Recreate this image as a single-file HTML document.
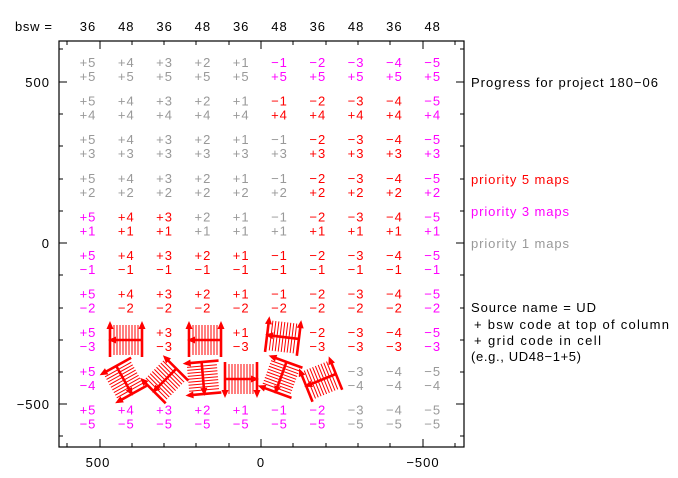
<!DOCTYPE html>
<html><head><meta charset="utf-8"><style>
html,body{margin:0;padding:0;background:#fff;}
svg{display:block;font-family:"Liberation Sans","DejaVu Sans",sans-serif;}
svg text{letter-spacing:1px;}
</style></head><body>
<svg width="678" height="478" viewBox="0 0 678 478" xmlns="http://www.w3.org/2000/svg">
<defs>
<g id="gl">
  <g stroke="#f00" stroke-width="1">
    <line x1="-12" y1="-15" x2="-12" y2="15"/><line x1="-9" y1="-15" x2="-9" y2="15"/>
    <line x1="-6" y1="-15" x2="-6" y2="15"/><line x1="-3" y1="-15" x2="-3" y2="15"/>
    <line x1="0" y1="-15" x2="0" y2="15"/><line x1="3" y1="-15" x2="3" y2="15"/>
    <line x1="6" y1="-15" x2="6" y2="15"/><line x1="9" y1="-15" x2="9" y2="15"/>
    <line x1="12" y1="-15" x2="12" y2="15"/>
  </g>
  <g stroke="#f00" stroke-width="2.6" fill="none">
    <line x1="-16" y1="17" x2="-16" y2="-16"/>
    <line x1="16" y1="17" x2="16" y2="-16"/>
    <line x1="16" y1="0" x2="-15" y2="0"/>
  </g>
  <g fill="#f00">
    <polygon points="-16,-19 -19.5,-11 -12.5,-11"/>
    <polygon points="16,-19 12.5,-11 19.5,-11"/>
    <polygon points="-18,0 -10,-3.5 -10,3.5"/>
  </g>
</g>
</defs>
<rect x="59" y="41" width="405" height="406" fill="none" stroke="#000" stroke-width="1.2"/>
<g stroke="#000" stroke-width="1">
<line x1="59" y1="49" x2="63" y2="49"/><line x1="59" y1="82" x2="67" y2="82"/><line x1="59" y1="114" x2="63" y2="114"/><line x1="59" y1="146" x2="63" y2="146"/><line x1="59" y1="179" x2="63" y2="179"/><line x1="59" y1="211" x2="63" y2="211"/><line x1="59" y1="243" x2="67" y2="243"/><line x1="59" y1="275" x2="63" y2="275"/><line x1="59" y1="308" x2="63" y2="308"/><line x1="59" y1="340" x2="63" y2="340"/><line x1="59" y1="372" x2="63" y2="372"/><line x1="59" y1="404" x2="67" y2="404"/><line x1="59" y1="436" x2="63" y2="436"/>
<line x1="464" y1="49" x2="460" y2="49"/><line x1="464" y1="82" x2="456" y2="82"/><line x1="464" y1="114" x2="460" y2="114"/><line x1="464" y1="146" x2="460" y2="146"/><line x1="464" y1="179" x2="460" y2="179"/><line x1="464" y1="211" x2="460" y2="211"/><line x1="464" y1="243" x2="456" y2="243"/><line x1="464" y1="275" x2="460" y2="275"/><line x1="464" y1="308" x2="460" y2="308"/><line x1="464" y1="340" x2="460" y2="340"/><line x1="464" y1="372" x2="460" y2="372"/><line x1="464" y1="404" x2="456" y2="404"/><line x1="464" y1="436" x2="460" y2="436"/>
<line x1="67" y1="41" x2="67" y2="45"/><line x1="100" y1="41" x2="100" y2="49"/><line x1="132" y1="41" x2="132" y2="45"/><line x1="164" y1="41" x2="164" y2="45"/><line x1="196" y1="41" x2="196" y2="45"/><line x1="229" y1="41" x2="229" y2="45"/><line x1="261" y1="41" x2="261" y2="49"/><line x1="293" y1="41" x2="293" y2="45"/><line x1="326" y1="41" x2="326" y2="45"/><line x1="358" y1="41" x2="358" y2="45"/><line x1="390" y1="41" x2="390" y2="45"/><line x1="423" y1="41" x2="423" y2="49"/><line x1="455" y1="41" x2="455" y2="45"/>
<line x1="67" y1="447" x2="67" y2="443"/><line x1="100" y1="447" x2="100" y2="439"/><line x1="132" y1="447" x2="132" y2="443"/><line x1="164" y1="447" x2="164" y2="443"/><line x1="196" y1="447" x2="196" y2="443"/><line x1="229" y1="447" x2="229" y2="443"/><line x1="261" y1="447" x2="261" y2="439"/><line x1="293" y1="447" x2="293" y2="443"/><line x1="326" y1="447" x2="326" y2="443"/><line x1="358" y1="447" x2="358" y2="443"/><line x1="390" y1="447" x2="390" y2="443"/><line x1="423" y1="447" x2="423" y2="439"/><line x1="455" y1="447" x2="455" y2="443"/>
</g>
<g font-size="13" fill="#000">
<text x="50" y="87" text-anchor="end">500</text>
<text x="50" y="248" text-anchor="end">0</text>
<text x="50" y="409" text-anchor="end">−500</text>
<text x="98" y="467" text-anchor="middle">500</text>
<text x="261" y="467" text-anchor="middle">0</text>
<text x="423" y="467" text-anchor="middle">−500</text>
<text x="15" y="31" textLength="38">bsw =</text>
<text x="471" y="87" textLength="188">Progress for project 180−06</text>
<text x="471" y="312" textLength="126">Source name = UD</text>
<text x="474" y="329" textLength="196">+ bsw code at top of column</text>
<text x="474" y="345" textLength="128">+ grid code in cell</text>
<text x="471" y="361" textLength="111">(e.g., UD48−1+5)</text>
</g>
<text x="471" y="184" font-size="13" fill="#f00" textLength="99">priority 5 maps</text>
<text x="471" y="216" font-size="13" fill="#f0f" textLength="99">priority 3 maps</text>
<text x="471" y="248" font-size="13" fill="#999" textLength="99">priority 1 maps</text>
<g id="cells" font-size="13" text-anchor="middle"></g>
<g id="tops" font-size="13" text-anchor="middle" fill="#000"></g>
<use href="#gl" transform="translate(126,340)"/>
<use href="#gl" transform="translate(205,340)"/>
<use href="#gl" transform="translate(283,337) rotate(7)"/>
<use href="#gl" transform="translate(124,380) rotate(-119)"/>
<use href="#gl" transform="translate(165,380) rotate(-45)"/>
<use href="#gl" transform="translate(203,378) rotate(-95)"/>
<use href="#gl" transform="translate(241,379) rotate(180)"/>
<use href="#gl" transform="translate(281,377) rotate(-70)"/>
<use href="#gl" transform="translate(321,380) rotate(-22)"/>
</svg>
<script>
var cols=["+5","+4","+3","+2","+1","−1","−2","−3","−4","−5"];
var rows=["+5","+4","+3","+2","+1","−1","−2","−3","−4","−5"];
var C={G:"#999",R:"#f00",M:"#f0f",X:null};
var map=["GGGGGMMMMM","GGGGGRRRRM","GGGGGGRRRM","GGGGGGRRRM","MRRGGGRRRM","MRRRRRRRRM","MRRRRRRRRM","MXRXRXRRRM","MXXXXXXGGG","MMMMMMMGGG"];
var ns="http://www.w3.org/2000/svg",g=document.getElementById("cells"),t=document.getElementById("tops");
for(var c=0;c<10;c++){var x=88+38.3*c;
 var e=document.createElementNS(ns,"text");e.setAttribute("x",x);e.setAttribute("y",31);e.textContent=(c%2?"48":"36");t.appendChild(e);
 for(var r=0;r<10;r++){var k=map[r][c];if(k==="X")continue;var y=67+38.6*r;
  [[cols[c],y],[rows[r],y+14]].forEach(function(p){var s=document.createElementNS(ns,"text");s.setAttribute("x",x);s.setAttribute("y",p[1]);s.setAttribute("fill",C[k]);s.textContent=p[0];g.appendChild(s);});
 }}
</script>
</body></html>
